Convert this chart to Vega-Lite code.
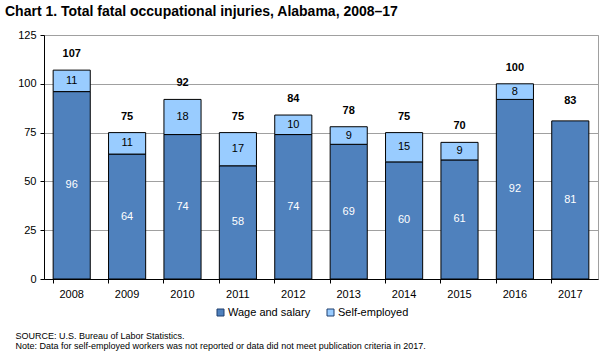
{
  "$schema": "https://vega.github.io/schema/vega-lite/v6.json",
  "width": 554,
  "height": 244,
  "autosize": "none",
  "padding": {"left": 44, "top": 35, "right": 10, "bottom": 82},
  "background": "white",
  "config": {
    "font": "Liberation Sans",
    "view": {"stroke": "#a0a0a0", "strokeWidth": 1}
  },
  "title": {
    "text": "Chart 1. Total fatal occupational injuries, Alabama, 2008–17",
    "anchor": "start",
    "frame": "group",
    "fontSize": 14,
    "fontWeight": "bold",
    "color": "black",
    "dx": -39,
    "offset": 10
  },
  "datasets": {
    "segments": [
      {"year": "2008", "type": "Wage and salary", "value": 96, "ord": 1},
      {"year": "2008", "type": "Self-employed", "value": 11, "ord": 2},
      {"year": "2009", "type": "Wage and salary", "value": 64, "ord": 1},
      {"year": "2009", "type": "Self-employed", "value": 11, "ord": 2},
      {"year": "2010", "type": "Wage and salary", "value": 74, "ord": 1},
      {"year": "2010", "type": "Self-employed", "value": 18, "ord": 2},
      {"year": "2011", "type": "Wage and salary", "value": 58, "ord": 1},
      {"year": "2011", "type": "Self-employed", "value": 17, "ord": 2},
      {"year": "2012", "type": "Wage and salary", "value": 74, "ord": 1},
      {"year": "2012", "type": "Self-employed", "value": 10, "ord": 2},
      {"year": "2013", "type": "Wage and salary", "value": 69, "ord": 1},
      {"year": "2013", "type": "Self-employed", "value": 9, "ord": 2},
      {"year": "2014", "type": "Wage and salary", "value": 60, "ord": 1},
      {"year": "2014", "type": "Self-employed", "value": 15, "ord": 2},
      {"year": "2015", "type": "Wage and salary", "value": 61, "ord": 1},
      {"year": "2015", "type": "Self-employed", "value": 9, "ord": 2},
      {"year": "2016", "type": "Wage and salary", "value": 92, "ord": 1},
      {"year": "2016", "type": "Self-employed", "value": 8, "ord": 2},
      {"year": "2017", "type": "Wage and salary", "value": 81, "ord": 1}
    ],
    "totals": [
      {"year": "2008", "total": 107},
      {"year": "2009", "total": 75},
      {"year": "2010", "total": 92},
      {"year": "2011", "total": 75},
      {"year": "2012", "total": 84},
      {"year": "2013", "total": 78},
      {"year": "2014", "total": 75},
      {"year": "2015", "total": 70},
      {"year": "2016", "total": 100},
      {"year": "2017", "total": 83}
    ]
  },
  "layer": [
    {
      "data": {"name": "segments"},
      "mark": {"type": "bar", "stroke": "black", "strokeWidth": 1},
      "encoding": {
        "x": {
          "field": "year",
          "type": "nominal",
          "scale": {"paddingInner": 0.33, "paddingOuter": 0.165},
          "axis": {
            "title": ["SOURCE: U.S. Bureau of Labor Statistics.", "Note: Data for self-employed workers was not reported or data did not meet publication criteria in 2017."],
            "titleAnchor": "start",
            "titleAlign": "left",
            "titleBaseline": "top",
            "titleX": -29,
            "titleY": 52,
            "titleFontSize": 9,
            "titleFontWeight": "normal",
            "titleLineHeight": 10,
            "titleColor": "black",
            "labelAngle": 0,
            "labelFontSize": 11,
            "labelColor": "black",
            "labelPadding": 5,
            "bandPosition": 0,
            "domainColor": "black",
            "tickColor": "black",
            "tickSize": 4
          }
        },
        "y": {
          "field": "value",
          "type": "quantitative",
          "stack": "zero",
          "scale": {"domain": [0, 125], "nice": false},
          "axis": {
            "title": null,
            "values": [0, 25, 50, 75, 100, 125],
            "labelFontSize": 11,
            "labelColor": "black",
            "labelPadding": 4,
            "domainColor": "black",
            "tickColor": "black",
            "tickSize": 4,
            "gridColor": "#a0a0a0",
            "gridWidth": 1
          }
        },
        "order": {"field": "ord", "type": "quantitative"},
        "color": {
          "field": "type",
          "type": "nominal",
          "scale": {"domain": ["Wage and salary", "Self-employed"], "range": ["#4f81bd", "#99ccff"]},
          "legend": {
            "title": null,
            "orient": "none",
            "direction": "horizontal",
            "legendX": 171,
            "legendY": 272,
            "symbolType": "square",
            "symbolSize": 49,
            "symbolStrokeColor": "#1f3f6f",
            "symbolStrokeWidth": 1,
            "labelFontSize": 11,
            "labelColor": "black",
            "labelOffset": 2,
            "columnPadding": 14
          }
        }
      }
    },
    {
      "data": {"name": "segments"},
      "transform": [
        {"stack": "value", "groupby": ["year"], "sort": [{"field": "ord"}], "as": ["v0", "v1"]},
        {"calculate": "(datum.v0 + datum.v1) / 2", "as": "mid"}
      ],
      "mark": {"type": "text", "fontSize": 11, "baseline": "middle"},
      "encoding": {
        "x": {"field": "year", "type": "nominal"},
        "y": {"field": "mid", "type": "quantitative"},
        "text": {"field": "value", "type": "quantitative"},
        "color": {
          "condition": {"test": "datum.type === 'Wage and salary'", "value": "white"},
          "value": "black"
        }
      }
    },
    {
      "data": {"name": "totals"},
      "mark": {"type": "text", "fontSize": 11, "fontWeight": "bold", "baseline": "middle", "dy": -16, "color": "black"},
      "encoding": {
        "x": {"field": "year", "type": "nominal"},
        "y": {"field": "total", "type": "quantitative"},
        "text": {"field": "total", "type": "quantitative"}
      }
    }
  ]
}
